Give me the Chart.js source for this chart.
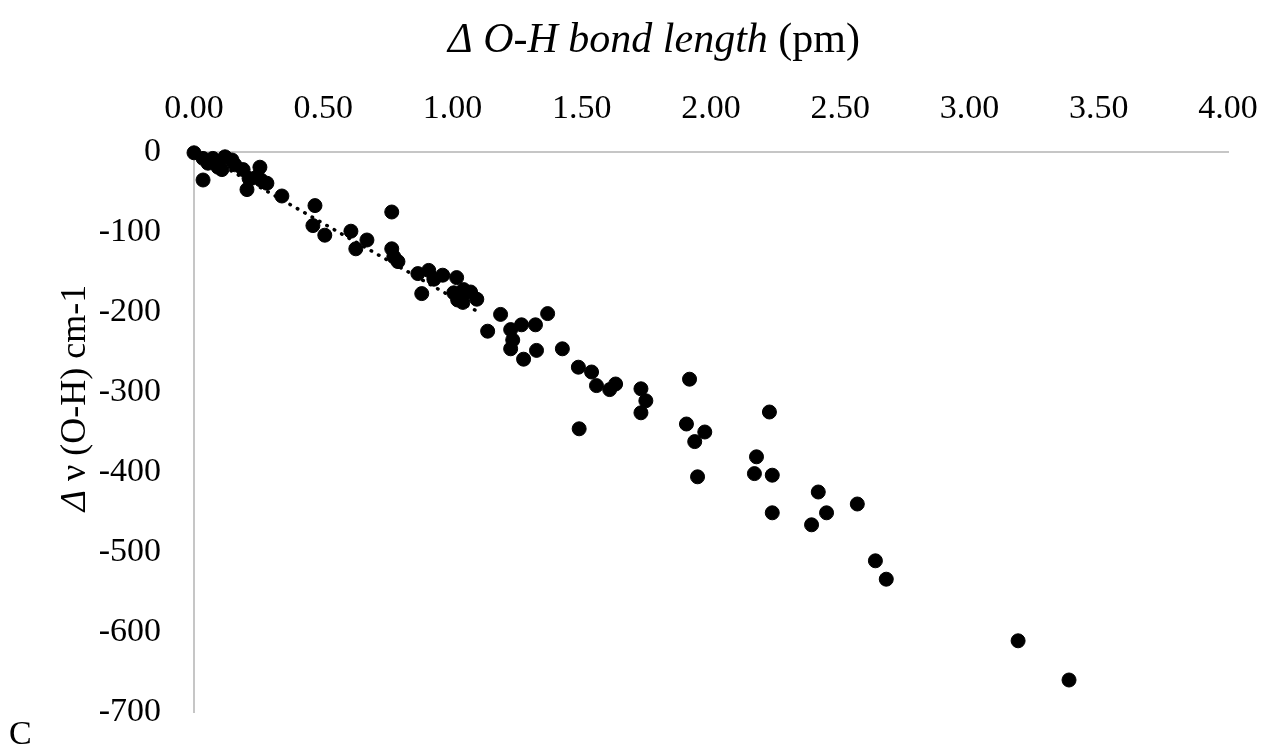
<!DOCTYPE html>
<html>
<head>
<meta charset="utf-8">
<script src="https://cdn.jsdelivr.net/npm/chart.js@4.4.1/dist/chart.umd.min.js"></script>
<style>
  html, body { margin: 0; padding: 0; background: #ffffff; }
  #wrap { position: relative; width: 1263px; height: 749px; }
</style>
</head>
<body>
<div id="wrap"><canvas id="c" width="1263" height="749"></canvas></div>
<script>
// ---- data ----
const bondLength = [
  0.00, 0.035, 0.073, 0.12, 0.147, 0.158, 0.035, 0.093, 0.19, 0.255, 0.244, 0.205, 0.282, 0.34,
  0.054, 0.108, 0.213, 0.259,
  0.468, 0.46, 0.506, 0.607, 0.669, 0.626, 0.765, 0.765, 0.773, 0.789,
  0.866, 0.908, 0.928, 0.962, 1.016, 0.881, 1.005, 1.02, 1.043, 1.07, 1.094, 1.04,
  1.186, 1.136, 1.225, 1.267, 1.321, 1.368, 1.233, 1.225, 1.275, 1.325,
  1.425, 1.487, 1.538, 1.557, 1.608, 1.631, 1.729, 1.748, 1.729, 1.49,
  1.917, 1.905, 1.976, 1.937, 1.948,
  2.226, 2.176, 2.168, 2.237, 2.237, 2.415, 2.447, 2.389, 2.566, 2.636, 2.678,
  3.188, 3.385
];
const freqShift = [
  -1, -8, -8, -6, -10, -16, -35, -19, -22, -19, -31, -47, -39, -55,
  -14, -22, -33, -35,
  -67, -92, -104, -99, -110, -121, -75, -121, -131, -137,
  -152, -148, -159, -154, -157, -177, -176, -185, -172, -175, -184, -188,
  -203, -224, -222, -216, -216, -202, -235, -246, -259, -248,
  -246, -269, -275, -292, -297, -290, -296, -311, -326, -346,
  -284, -340, -350, -362, -406,
  -325, -381, -402, -404, -451, -425, -451, -466, -440, -511, -534,
  -611, -660
];
const trendX = [0, 1.1];
const trendY = [3, -200];
const xTicks = [0, 0.5, 1, 1.5, 2, 2.5, 3, 3.5, 4];
const yTicks = [0, -100, -200, -300, -400, -500, -600, -700];

const SERIF = '"Liberation Serif", "Times New Roman", serif';

const points = bondLength.map((x, i) => ({ x: x, y: freqShift[i] }));
const trend = trendX.map((x, i) => ({ x: x, y: trendY[i] }));

function drawSegments(ctx, segs, cx, cy, rotate) {
  ctx.save();
  ctx.translate(cx, cy);
  if (rotate) ctx.rotate(-Math.PI / 2);
  let total = 0;
  segs.forEach(s => { ctx.font = s.font; s.w = ctx.measureText(s.t).width; total += s.w; });
  let x = -total / 2;
  ctx.textBaseline = 'alphabetic';
  ctx.textAlign = 'left';
  ctx.fillStyle = '#000';
  segs.forEach(s => { ctx.font = s.font; ctx.fillText(s.t, x, 0); x += s.w; });
  ctx.restore();
}

const titlesPlugin = {
  id: 'titles',
  afterDraw(chart) {
    const ctx = chart.ctx;
    drawSegments(ctx, [
      { t: 'Δ O-H bond length', font: 'italic 42px ' + SERIF },
      { t: ' (pm)', font: '42px ' + SERIF }
    ], 654, 52, false);
    drawSegments(ctx, [
      { t: 'Δ', font: 'italic 36px ' + SERIF },
      { t: ' ν (O-H) cm-1', font: '36px ' + SERIF }
    ], 85, 398, true);
    ctx.save();
    ctx.font = '34px ' + SERIF;
    ctx.fillStyle = '#000';
    ctx.textAlign = 'left';
    ctx.textBaseline = 'alphabetic';
    ctx.fillText('C', 9, 744);
    ctx.restore();
  }
};

new Chart(document.getElementById('c'), {
  type: 'scatter',
  data: {
    datasets: [
      {
        label: 'data',
        data: points,
        backgroundColor: '#000',
        borderColor: '#000',
        borderWidth: 1,
        pointRadius: 7,
        pointHoverRadius: 7,
        clip: false,
        order: 1
      },
      {
        type: 'line',
        label: 'trend',
        data: trend,
        borderColor: '#000',
        borderWidth: 3.5,
        borderDash: [0.5, 8],
        borderCapStyle: 'round',
        pointRadius: 0,
        fill: false,
        showLine: true,
        order: 2
      }
    ]
  },
  options: {
    responsive: false,
    animation: false,
    devicePixelRatio: 1,
    layout: { padding: { left: 0, top: 0, right: 35, bottom: 37 } },
    plugins: { legend: { display: false }, tooltip: { enabled: false }, title: { display: false } },
    scales: {
      x: {
        type: 'linear',
        position: 'top',
        min: 0, max: 4,
        afterFit(s) { s.height = 152; s.paddingLeft = 0; s.paddingRight = 0; },
        afterBuildTicks(s) { s.ticks = xTicks.map(v => ({ value: v })); },
        grid: { display: false, drawTicks: false },
        border: { display: true, color: '#c6c6c6', width: 2 },
        ticks: {
          padding: 23,
          color: '#000',
          font: { family: SERIF, size: 34 },
          maxRotation: 0,
          autoSkip: false,
          callback: v => Number(v).toFixed(2)
        }
      },
      y: {
        type: 'linear',
        min: -700, max: 0,
        afterFit(s) { s.width = 194; s.paddingTop = 0; s.paddingBottom = 0; },
        afterBuildTicks(s) { s.ticks = yTicks.map(v => ({ value: v })); },
        grid: { display: false, drawTicks: false },
        border: { display: true, color: '#c6c6c6', width: 2 },
        ticks: {
          padding: 33,
          color: '#000',
          font: { family: SERIF, size: 34 },
          autoSkip: false,
          callback: v => String(v)
        }
      }
    }
  },
  plugins: [titlesPlugin]
});
</script>
</body>
</html>
